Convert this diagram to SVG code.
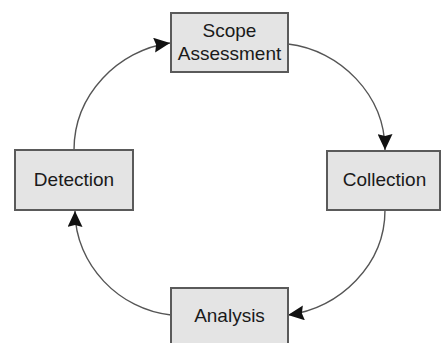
<svg xmlns="http://www.w3.org/2000/svg" width="443" height="343" viewBox="0 0 443 343">
  <style>
    .box { fill: #e4e4e4; stroke: #5a5a5a; stroke-width: 2; }
    .label { font-family: "Liberation Sans", Arial, sans-serif; font-size: 19px; fill: #1a1a1a; text-anchor: middle; }
    .link { fill: none; stroke: #555; stroke-width: 1.4; }
  </style>
  <defs>
    <marker id="arrow" markerUnits="userSpaceOnUse" markerWidth="17" markerHeight="15" refX="16" refY="7.5" orient="auto">
      <path d="M0,0 L16,7.5 L0,15 L2,7.5 Z" fill="#111"/>
    </marker>
  </defs>
  <rect width="443" height="343" fill="#ffffff"/>

  <g id="connectors">
    <path class="link" d="M74,150 C74,95 118,50 170,43" marker-end="url(#arrow)"/>
    <path class="link" d="M288,44 C340,50 385,95 385,150" marker-end="url(#arrow)"/>
    <path class="link" d="M385,210 C385,265 340,308 288,315" marker-end="url(#arrow)"/>
    <path class="link" d="M171,315 C120,310 75,265 75,211" marker-end="url(#arrow)"/>
  </g>

  <g id="scope-assessment">
    <rect class="box" x="171" y="13" width="117" height="59"/>
    <text class="label" x="229.5" y="37">Scope</text>
    <text class="label" x="229.5" y="60">Assessment</text>
  </g>

  <g id="collection">
    <rect class="box" x="327" y="151" width="113" height="59"/>
    <text class="label" x="384.5" y="186">Collection</text>
  </g>

  <g id="analysis">
    <rect class="box" x="171" y="288" width="117" height="58"/>
    <text class="label" x="229.5" y="322">Analysis</text>
  </g>

  <g id="detection">
    <rect class="box" x="15" y="150" width="118" height="60"/>
    <text class="label" x="74" y="186">Detection</text>
  </g>
</svg>
